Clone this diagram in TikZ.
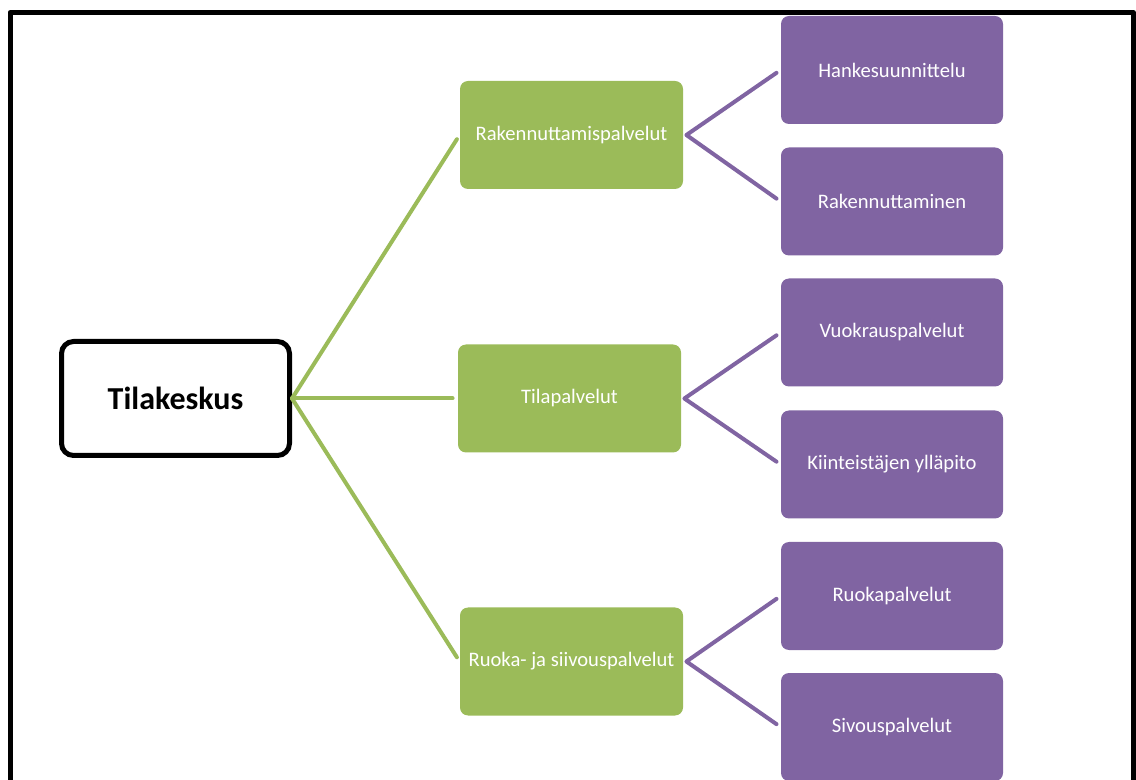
\documentclass[tikz,border=0pt]{standalone}
\usepackage{fontspec}
\setmainfont{Carlito}
\usepackage{tikz}

\definecolor{servgreen}{HTML}{9BBB59}
\definecolor{taskpurple}{HTML}{8064A2}

\begin{document}
\begin{tikzpicture}[x=0.5pt, y=-0.5pt, line cap=round, line join=round]
    % Styles
    \tikzset{
        rootbox/.style={draw=black, line width=2.5pt, rounded corners=6pt, fill=white,
            minimum width=114pt, minimum height=57pt, font=\fontsize{16}{19}\selectfont\bfseries},
        servicebox/.style={fill=servgreen, rounded corners=4pt, text=white,
            minimum width=111.5pt, minimum height=54pt, font=\fontsize{10.3}{12}\selectfont},
        taskbox/.style={fill=taskpurple, rounded corners=4pt, text=white,
            minimum width=111pt, minimum height=54pt, font=\fontsize{10.3}{12}\selectfont},
        greenlink/.style={line width=2pt, servgreen, shorten >=2.5pt},
        purplelink/.style={line width=2pt, taskpurple, shorten <=2.5pt, shorten >=2.5pt},
        frame/.style={line width=2.5pt, black, line cap=butt}
    }

    % Page size (pixel grid, y downwards)
    \useasboundingbox (0,0) rectangle (1136,780);

    % --- Outer frame (open at the bottom) ---
    \draw[frame] (10,780) -- (10,12.5) -- (1133.5,12.5) -- (1133.5,780);

    % --- Root ---
    \node[rootbox] (root) at (175.5,398.5) {Tilakeskus};

    % --- Services ---
    \node[servicebox] (build) at (571.5,135) {Rakennuttamispalvelut};
    \node[servicebox] (space) at (569.5,398.5) {Tilapalvelut};
    \node[servicebox] (food) at (571.5,661.5) {Ruoka- ja siivouspalvelut};

    % --- Tasks ---
    \node[taskbox] (plan) at (892,70) {Hankesuunnittelu};
    \node[taskbox] (constr) at (892,201.5) {Rakennuttaminen};
    \node[taskbox] (rent) at (892,332.5) {Vuokrauspalvelut};
    \node[taskbox] (upkeep) at (892,464.5) {Kiinteistäjen ylläpito};
    \node[taskbox] (meals) at (892,596) {Ruokapalvelut};
    \node[taskbox] (clean) at (892,727) {Sivouspalvelut};

    % --- Connectors ---
    \foreach \s in {build, space, food}
        \draw[greenlink] (root.east) -- (\s.west);

    \draw[purplelink] (plan.west) -- ([xshift=1.5pt]build.east) -- (constr.west);
    \draw[purplelink] (rent.west) -- ([xshift=1.5pt]space.east) -- (upkeep.west);
    \draw[purplelink] (meals.west) -- ([xshift=1.5pt]food.east) -- (clean.west);

\end{tikzpicture}
\end{document}
